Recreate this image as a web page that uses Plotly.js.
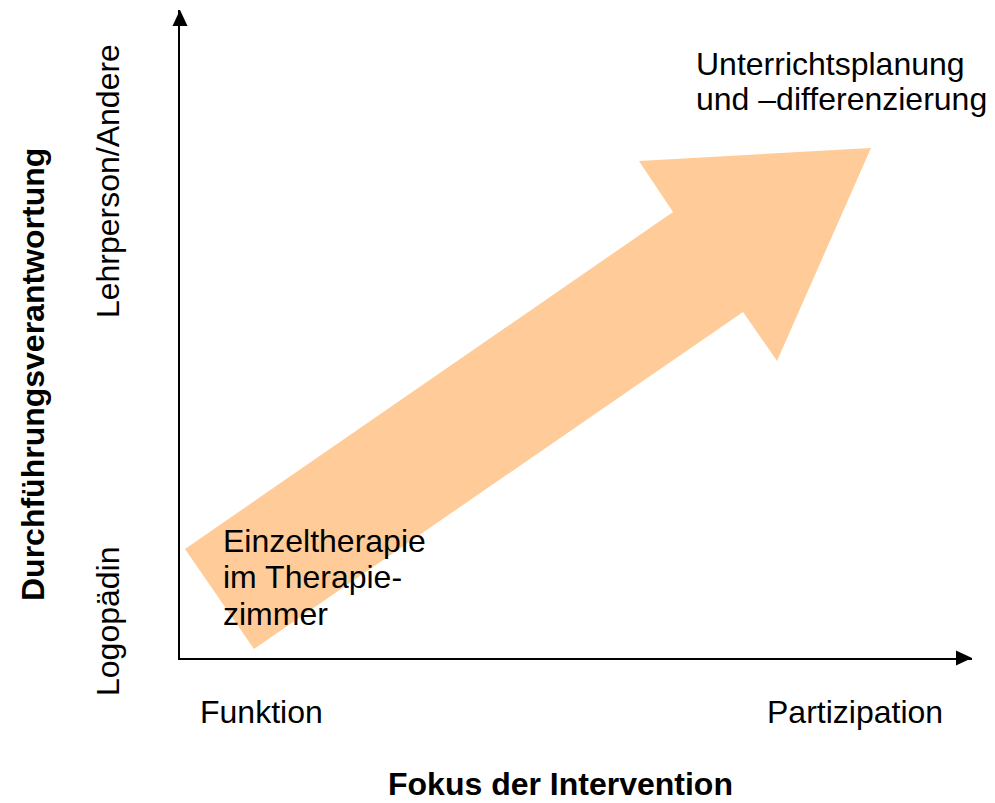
<!DOCTYPE html>
<html>
<head>
<meta charset="utf-8">
<script src="https://cdn.plot.ly/plotly-3.0.1.min.js"></script>
<style>html,body{margin:0;padding:0;background:#fff;}#chart{width:995px;height:803px;}</style>
</head>
<body>
<div id="chart"></div>
<script>
// Diagram data (axis units 0..10)
const xCategories = ['Funktion', 'Partizipation'];
const xCategoryPos = [1.035, 8.52];
const yCategories = ['Logopädin', 'Lehrperson/Andere'];
const yCategoryPos = [0.556, 7.36];
const xTitle = 'Fokus der Intervention';
const yTitle = 'Durchführungsverantwortung';

// Big arrow outline (x, y in axis units)
const arrowX = [0.063, 6.225, 5.795, 8.725, 7.538, 7.109, 0.934];
const arrowY = [1.682, 6.883, 7.670, 7.870, 4.583, 5.340, 0.139];

// Text blocks
const startLines = ['Einzeltherapie', 'im Therapie-', 'zimmer'];
const startLineY = [1.806, 1.25, 0.679];
const startX = 0.52;
const endLines = ['Unterrichtsplanung', 'und –differenzierung'];
const endLineY = [9.167, 8.627];
const endX = 6.49;

const FONT = 'Liberation Sans, Arial, sans-serif';
const FS = 32;
const P = v => v / 10; // axis units -> paper fraction (range 0..10 spans the domain)

const traces = [{
  type: 'scatter',
  x: arrowX.concat([arrowX[0]]),
  y: arrowY.concat([arrowY[0]]),
  mode: 'lines',
  fill: 'toself',
  fillcolor: 'rgb(255,204,153)',
  line: {width: 0, color: 'rgba(0,0,0,0)'},
  hoverinfo: 'skip',
  showlegend: false
}];

const annotations = [];
const ann = (text, x, y, xanchor, angle) => annotations.push({
  text: text, x: P(x), y: P(y), xref: 'paper', yref: 'paper',
  showarrow: false, xanchor: xanchor, yanchor: 'middle', textangle: angle || 0,
  font: {family: FONT, size: FS, color: '#000'}
});
xCategories.forEach((t, i) => ann(t, xCategoryPos[i], -0.833, 'center'));
yCategories.forEach((t, i) => ann(t, -0.909, yCategoryPos[i], 'center', -90));
ann('<b>' + xTitle + '</b>', 4.81, -1.944, 'center');
ann('<b>' + yTitle + '</b>', -1.856, 4.367, 'center', -90);
startLines.forEach((t, i) => ann(t, startX, startLineY[i], 'left'));
endLines.forEach((t, i) => ann(t, endX, endLineY[i], 'left'));

const shapes = [
  {type: 'path', xref: 'paper', yref: 'paper',
   path: `M ${P(-0.095)} ${P(9.753)} L 0 1 L ${P(0.095)} ${P(9.753)} Z`,
   fillcolor: '#000', line: {width: 0}},
  {type: 'path', xref: 'paper', yref: 'paper',
   path: `M ${P(9.798)} ${P(0.116)} L 1 0 L ${P(9.798)} ${P(-0.116)} Z`,
   fillcolor: '#000', line: {width: 0}}
];

const layout = {
  width: 995, height: 803,
  margin: {l: 180, r: 23, t: 10, b: 145, pad: 0},
  paper_bgcolor: '#fff', plot_bgcolor: '#fff',
  showlegend: false,
  hovermode: false,
  xaxis: {range: [0, 10], showgrid: false, zeroline: false, showticklabels: false,
          ticks: '', showline: true, linewidth: 2, linecolor: '#000', fixedrange: true},
  yaxis: {range: [0, 10], showgrid: false, zeroline: false, showticklabels: false,
          ticks: '', showline: true, linewidth: 2, linecolor: '#000', fixedrange: true},
  annotations: annotations,
  shapes: shapes
};

Plotly.newPlot('chart', traces, layout, {staticPlot: true, displayModeBar: false});
</script>
</body>
</html>
